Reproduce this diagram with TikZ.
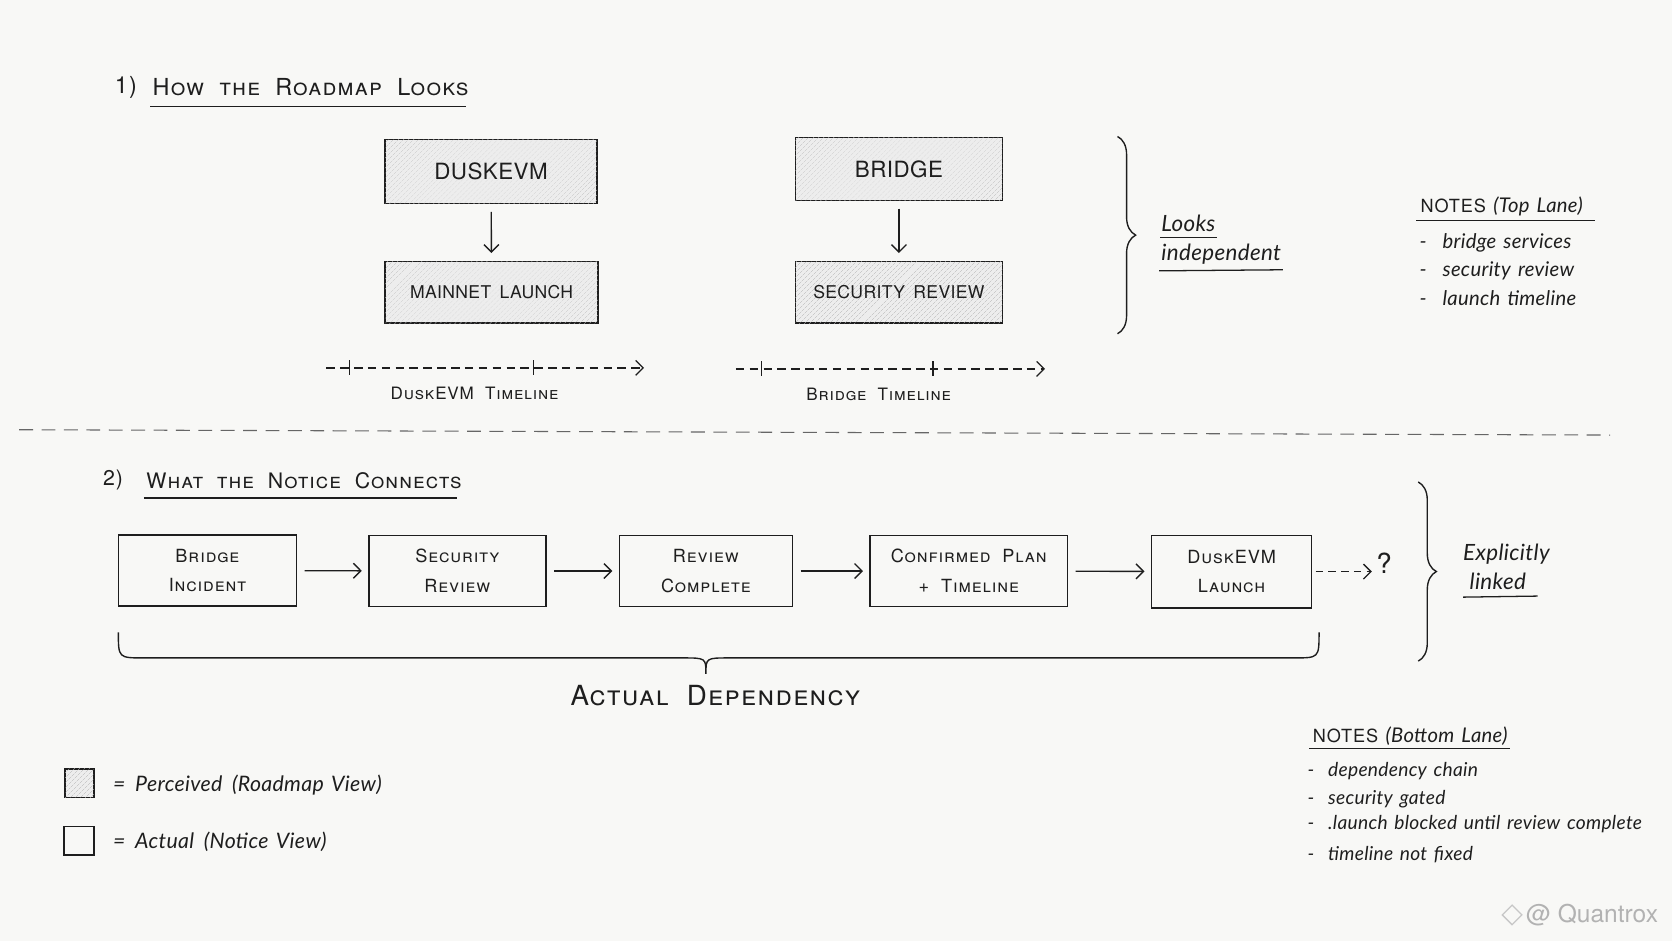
\documentclass[tikz,border=0pt]{standalone}
\usepackage{fontspec}
\setmainfont{TeX Gyre Heros}
\newfontfamily\capsfont[Letters=SmallCaps, LetterSpace=5, WordSpace=2]{TeX Gyre Heros}
\newfontfamily\boxfont[LetterSpace=2, WordSpace=1.6]{TeX Gyre Heros}
\newfontfamily\handfont[LetterSpace=1.5, WordSpace=1.4]{Lato}
\usetikzlibrary{arrows.meta,patterns.meta,decorations.pathreplacing}
\definecolor{bgc}{RGB}{248,248,246}
\definecolor{ink}{RGB}{30,30,30}
\newcommand{\hand}{\handfont\itshape}
\tikzset{
  ink line/.style={draw=ink, line width=1.4pt},
  abox/.style={ink line, rectangle, inner sep=0pt, align=center, text=ink,
    font=\capsfont\fontsize{17}{28}\selectfont},
  hbox/.style={abox, fill=black!7,
    postaction={pattern={Lines[angle=45,distance=4pt,line width=0.45pt]}, pattern color=black!28}},
  arr/.style={draw=ink, line width=1.3pt, -{Straight Barb[length=7pt,width=14pt]}},
  darr/.style={arr, dash pattern=on 7pt off 5pt},
  tline/.style={draw=ink, line width=1.2pt, dash pattern=on 8pt off 5pt, -{Straight Barb[length=7pt,width=14pt]}},
  tick/.style={draw=ink, line width=1.2pt},
  divline/.style={draw=black!60, line width=1pt, dash pattern=on 13pt off 8pt},
  bracey/.style={draw=ink, line width=1.3pt, decorate, decoration={brace, amplitude=17pt}},
  uline/.style={draw=ink, line width=1.2pt},
  title/.style={text=ink, inner sep=0pt, font=\capsfont\fontsize{22}{24}\selectfont},
  tlabel/.style={text=ink, inner sep=0pt, font=\capsfont\fontsize{16}{18}\selectfont},
  handtxt/.style={text=ink, inner sep=0pt, font=\hand\fontsize{21}{24}\selectfont},
  notetxt/.style={text=ink, inner sep=0pt, font=\hand\fontsize{19}{22}\selectfont},
}
\begin{document}
\begin{tikzpicture}[x=1pt,y=-1pt]
\fill[bgc] (0,0) rectangle (1568,882);
\useasboundingbox (0,0) rectangle (1568,882);

% ---------- section 1
\node[title] (n1) at (118,82) {1)};
\node[title, anchor=west] (h1) at (143,82) {How the Roadmap Looks};
\draw[uline] (141,100) -- (437,100);

\node[hbox, minimum width=199pt, minimum height=60pt, font=\boxfont\fontsize{21}{24}\selectfont] (dusk) at (460.5,161) {DUSKEVM};
\node[hbox, minimum width=200pt, minimum height=58pt, font=\boxfont\fontsize{16.5}{20}\selectfont] (mainnet) at (461,274) {MAINNET LAUNCH};
\node[hbox, minimum width=194pt, minimum height=59pt, font=\boxfont\fontsize{21}{24}\selectfont] (bridge) at (843,158.5) {BRIDGE};
\node[hbox, minimum width=194pt, minimum height=58pt, font=\boxfont\fontsize{16.5}{20}\selectfont] (secrev) at (843,274) {SECURITY REVIEW};
\draw[arr, shorten <=7pt, shorten >=7pt] (dusk) -- (mainnet);
\draw[arr, shorten <=7pt, shorten >=7pt] (bridge) -- (secrev);

% timelines
\coordinate (dt0) at (306,345); \coordinate (dt1) at (604,345);
\draw[tline] (dt0) -- (dt1);
\draw[tick] (328,338) -- (328,352);
\draw[tick] (500,338) -- (500,352);
\node[tlabel] (dtl) at (445,369) {DuskEVM Timeline};
\coordinate (bt0) at (690,346); \coordinate (bt1) at (980,346);
\draw[tline] (bt0) -- (bt1);
\draw[tick] (714,339) -- (714,353);
\draw[tick] (875,339) -- (875,353);
\node[tlabel] (btl) at (824,370) {Bridge Timeline};

% brace + looks independent
\draw[bracey] (1048,128) -- (1048,313);
\node[handtxt, anchor=base west] (looks) at (1089,217) {Looks};
\node[handtxt, anchor=base west] (indep) at (1089,244) {independent};
\draw[uline] (1088,223) -- (1141,223);
\draw[uline] (1087,254) -- (1203,253);

% notes top
\node[notetxt, anchor=west] (nt) at (1332,194) {{\capsfont\upshape\fontsize{17}{20}\selectfont NOTES}\hspace{7pt}(Top Lane)};
\draw[uline] (1328,207) -- (1496,207);
\node[notetxt, anchor=west] (nt1) at (1331,228) {-\hspace{15pt}bridge services};
\node[notetxt, anchor=west] (nt2) at (1331,254) {-\hspace{15pt}security review};
\node[notetxt, anchor=west] (nt3) at (1331,280) {-\hspace{15pt}launch timeline};

% divider
\draw[divline] (18,403) -- (1510,408);

% ---------- section 2
\node[title, font=\capsfont\fontsize{20}{24}\selectfont] (n2) at (106,450) {2)};
\node[title, anchor=west, font=\capsfont\fontsize{20}{24}\selectfont] (h2) at (137,451) {What the Notice Connects};
\draw[uline] (135,467) -- (429,467);

\node[abox, minimum width=167pt, minimum height=67pt] (b1) at (194.5,535) {Bridge\\Incident};
\node[abox, minimum width=166pt, minimum height=67pt] (b2) at (429,535.5) {Security\\Review};
\node[abox, minimum width=162pt, minimum height=67pt] (b3) at (662,535.5) {Review\\Complete};
\node[abox, minimum width=185pt, minimum height=67pt] (b4) at (908.5,535.5) {Confirmed Plan\\+ Timeline};
\node[abox, minimum width=150pt, minimum height=68pt] (b5) at (1155,536) {DuskEVM\\Launch};
\draw[arr, shorten <=7pt, shorten >=6pt] (b1) -- (b2);
\draw[arr, shorten <=7pt, shorten >=6pt] (b2) -- (b3);
\draw[arr, shorten <=7pt, shorten >=6pt] (b3) -- (b4);
\draw[arr, shorten <=7pt, shorten >=6pt] (b4) -- (b5);
\node[text=ink, inner sep=1pt, font=\fontsize{26}{28}\selectfont] (q) at (1298,528) {?};
\draw[darr, shorten <=3pt, shorten >=3pt] (b5.east) -- (b5.east -| q.west);

% bottom brace
\draw[ink line, line width=1.3pt] (111,593) .. controls (111,617) .. (135,617) -- (640,617)
  .. controls (662,617) .. (662,632) .. controls (662,617) .. (684,617) -- (1213,617)
  .. controls (1237,617) .. (1237,593);
\node[text=ink, inner sep=0pt, font=\capsfont\fontsize{26}{30}\selectfont] (act) at (671,652) {Actual Dependency};

% right brace + explicitly linked
\draw[bracey] (1330,452) -- (1330,620);
\node[handtxt, anchor=base west] (expl) at (1372,526) {Explicitly};
\node[handtxt, anchor=base west] (linked) at (1378,553) {linked};
\draw[uline] (1372,560) -- (1442,559);

% notes bottom
\node[notetxt, anchor=west] (nb) at (1231,690) {{\capsfont\upshape\fontsize{17}{20}\selectfont NOTES}\hspace{7pt}(Bottom Lane)};
\draw[uline] (1228,702) -- (1416,702);
\node[notetxt, anchor=west, font=\hand\fontsize{18}{22}\selectfont] (nb1) at (1226,723) {-\hspace{13pt}dependency chain};
\node[notetxt, anchor=west, font=\hand\fontsize{18}{22}\selectfont] (nb2) at (1226,749) {-\hspace{13pt}security gated};
\node[notetxt, anchor=west, font=\hand\fontsize{18}{22}\selectfont] (nb3) at (1226,773) {-\hspace{13pt}.launch blocked until review complete};
\node[notetxt, anchor=west, font=\hand\fontsize{18}{22}\selectfont] (nb4) at (1226,801) {-\hspace{13pt}timeline not fixed};

% legend
\node[hbox, minimum width=27pt, minimum height=27pt] (lg1) at (74.5,734.5) {};
\node[abox, minimum width=28pt, minimum height=27pt] (lg2) at (74,788.5) {};
\node[handtxt, anchor=west, font=\hand\fontsize{20}{22}\selectfont] (lt1) at (106,736) {=\hspace{9pt}Perceived\hspace{9pt}(Roadmap View)};
\node[handtxt, anchor=west, font=\hand\fontsize{20}{22}\selectfont] (lt2) at (106,789) {=\hspace{9pt}Actual\hspace{9pt}(Notice View)};

% watermark
\node[draw=black!22, line width=1.2pt, rotate=45, minimum size=13pt, inner sep=0pt] (wl) at (1418,858) {};
\node[text=black!30, anchor=west, inner sep=0pt, font=\fontsize{23}{25}\selectfont] (wm) at (1431,858) {@ Quantrox};
\end{tikzpicture}
\end{document}
